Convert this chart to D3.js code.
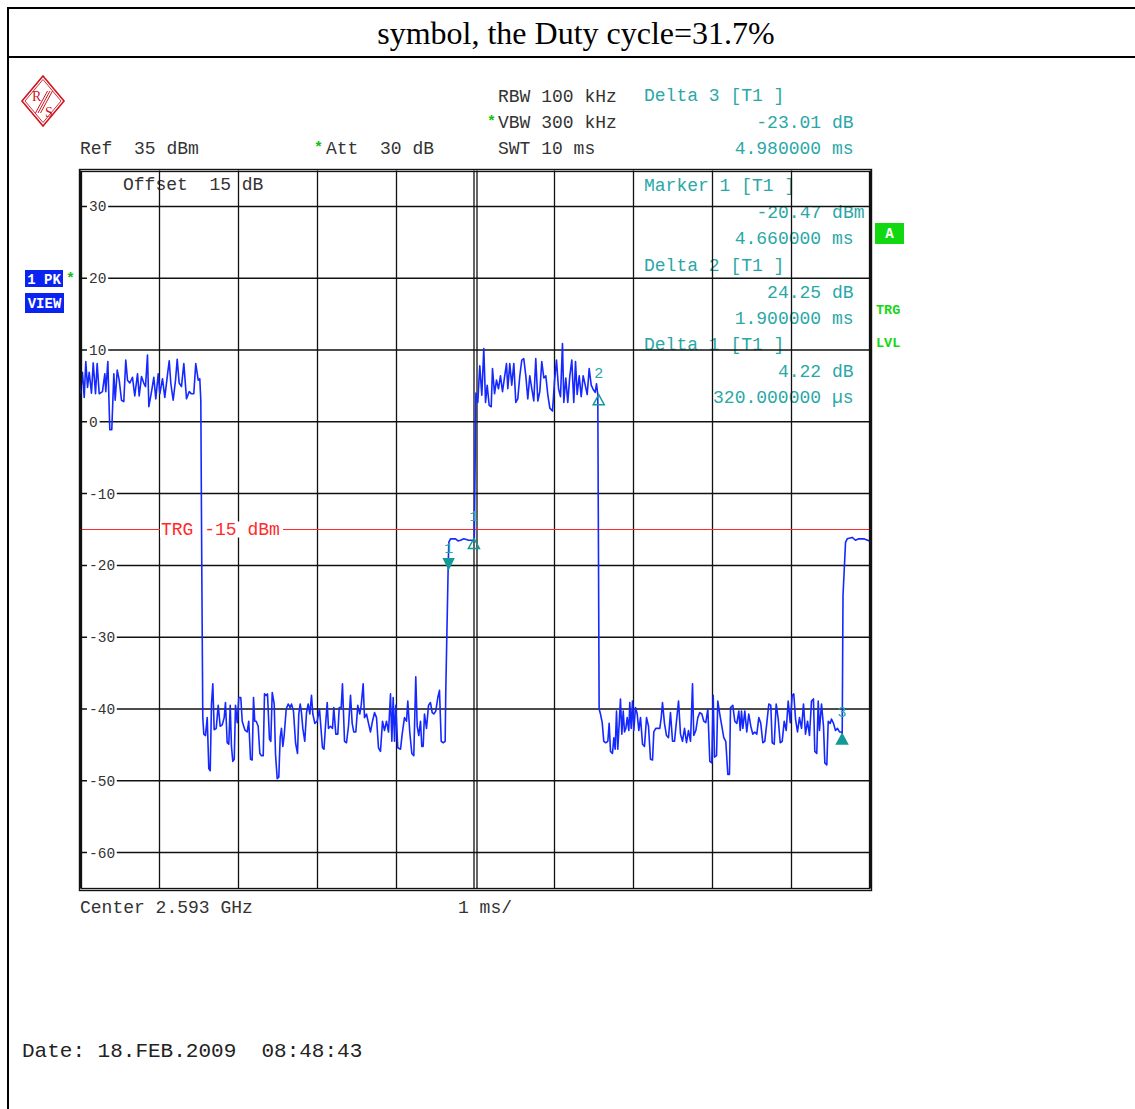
<!DOCTYPE html>
<html>
<head>
<meta charset="utf-8">
<script src="https://cdn.jsdelivr.net/npm/d3@7"></script>
<style>
  body { margin: 0; background: #fff; }
  text { font-family: "Liberation Mono", "DejaVu Sans Mono", monospace; white-space: pre; }
</style>
</head>
<body>
<div id="chart"></div>
<script>
// ---- values ----
var yTicks = [30, 20, 10, 0, -10, -20, -30, -40, -50, -60];
var xDivs = [0, 1, 2, 3, 4, 6, 7, 8, 9, 10];   // ms, 1 ms/div (5 is the double center line)

// trace, [ms, dBm]
var burst1 = [[0.000,3.9],[0.025,6.9],[0.047,3.4],[0.067,8.4],[0.089,4.8],[0.110,6.9],[0.139,4.0],[0.161,8.2],[0.190,3.9],[0.211,8.1],[0.237,3.9],[0.278,4.2],[0.308,6.7],[0.320,4.2],[0.346,8.4],[0.371,-1.1],[0.396,-1.1],[0.422,6.7],[0.439,3.0],[0.465,7.2],[0.490,5.8],[0.519,3.0],[0.548,2.8],[0.573,8.6],[0.595,5.8],[0.624,5.4],[0.658,6.2],[0.687,3.6],[0.722,6.7],[0.743,3.6],[0.772,6.3],[0.801,5.4],[0.823,4.9],[0.848,9.3],[0.865,2.1],[0.899,4.2],[0.928,6.2],[0.953,3.2],[0.984,6.7],[1.004,3.9],[1.038,6.0],[1.067,3.4],[1.097,6.2],[1.123,8.5],[1.143,5.4],[1.173,3.0],[1.203,5.8],[1.224,8.7],[1.249,5.4],[1.278,4.9],[1.308,8.1],[1.342,3.2],[1.376,4.2],[1.405,3.9],[1.434,3.9],[1.459,8.1],[1.490,5.8],[1.510,6.0],[1.523,3.0]];
var floor1 = [[1.535,-20],[1.548,-41.2],[1.561,-43.5],[1.582,-43.7],[1.604,-41.2],[1.624,-48.3],[1.642,-48.6],[1.658,-39.3],[1.675,-36.5],[1.692,-42.9],[1.718,-42.7],[1.743,-39.5],[1.768,-42.4],[1.794,-42.2],[1.819,-41.2],[1.835,-39.1],[1.857,-44.7],[1.877,-44.9],[1.895,-39.5],[1.911,-45.2],[1.928,-47.3],[1.946,-47.0],[1.962,-39.5],[1.984,-41.9],[2.004,-38.4],[2.029,-38.4],[2.047,-41.7],[2.080,-42.9],[2.110,-43.2],[2.130,-41.7],[2.152,-47.0],[2.173,-47.1],[2.190,-38.4],[2.206,-41.7],[2.224,-41.7],[2.249,-42.4],[2.270,-46.2],[2.291,-46.5],[2.313,-46.5],[2.329,-37.9],[2.351,-38.1],[2.367,-37.9],[2.392,-44.2],[2.409,-44.5],[2.427,-37.7],[2.452,-39.3],[2.468,-46.2],[2.490,-49.7],[2.510,-49.5],[2.528,-43.9],[2.544,-42.7],[2.561,-45.2],[2.578,-43.7],[2.604,-40.0],[2.629,-39.3],[2.654,-39.8],[2.671,-39.3],[2.696,-40.3],[2.722,-44.7],[2.747,-46.2],[2.763,-40.7],[2.781,-39.3],[2.797,-40.5],[2.814,-42.7],[2.839,-44.5],[2.861,-40.5],[2.882,-39.3],[2.903,-40.7],[2.924,-38.1],[2.941,-40.7],[2.966,-42.0],[2.996,-41.7],[3.025,-40.0],[3.063,-45.4],[3.082,-45.6],[3.101,-42.4],[3.123,-39.1],[3.139,-42.7],[3.165,-42.4],[3.190,-42.7],[3.206,-39.8],[3.232,-43.5],[3.257,-43.5],[3.275,-39.8],[3.300,-39.8],[3.316,-36.5],[3.342,-44.5],[3.367,-44.7],[3.392,-42.4],[3.418,-38.1],[3.439,-42.0],[3.459,-43.2],[3.485,-43.2],[3.510,-39.5],[3.535,-40.7],[3.553,-39.5],[3.578,-36.5],[3.595,-41.2],[3.620,-40.7],[3.646,-42.0],[3.671,-43.2],[3.696,-41.7],[3.722,-40.5],[3.747,-41.2],[3.772,-45.4],[3.797,-45.9],[3.823,-41.7],[3.848,-43.0],[3.873,-41.7],[3.899,-43.2],[3.924,-37.9],[3.941,-44.5],[3.958,-38.4],[3.975,-44.5],[3.991,-39.5],[4.016,-45.4],[4.051,-45.6],[4.072,-43.5],[4.101,-41.2],[4.127,-41.7],[4.143,-38.9],[4.168,-43.2],[4.194,-46.2],[4.219,-46.5],[4.244,-35.5],[4.262,-42.4],[4.282,-43.7],[4.304,-41.7],[4.320,-45.2],[4.338,-45.2],[4.354,-40.7],[4.380,-42.7],[4.405,-39.5],[4.430,-39.1],[4.452,-40.5],[4.472,-40.7],[4.497,-40.3],[4.523,-38.4],[4.544,-37.4],[4.566,-44.5],[4.591,-44.7],[4.616,-44.5],[4.624,-37.4]];
var preamble1 = [[4.654,-20.3],[4.662,-16.8],[4.684,-16.3],[4.747,-16.3],[4.780,-16.6],[4.810,-16.5],[4.852,-16.3],[4.915,-16.5],[4.966,-16.5],[4.985,-16.4]];
var burst2 = [[5.005,4.0],[5.029,2.7],[5.054,7.8],[5.080,3.7],[5.105,10.2],[5.127,2.7],[5.148,5.1],[5.173,2.3],[5.199,2.1],[5.215,7.4],[5.241,3.9],[5.266,5.8],[5.291,4.6],[5.316,6.4],[5.342,4.2],[5.367,6.2],[5.392,8.1],[5.409,4.6],[5.434,8.1],[5.459,5.1],[5.485,8.1],[5.510,2.7],[5.535,3.2],[5.561,6.4],[5.586,8.6],[5.611,8.8],[5.637,6.4],[5.662,3.2],[5.687,6.4],[5.713,4.6],[5.738,2.9],[5.763,8.8],[5.789,2.9],[5.814,4.2],[5.839,8.4],[5.865,6.1],[5.890,6.4],[5.915,3.8],[5.941,1.9],[5.975,1.5],[6.000,5.6],[6.025,8.6],[6.051,4.6],[6.076,3.5],[6.101,10.9],[6.118,2.7],[6.143,6.1],[6.168,2.7],[6.194,6.4],[6.219,8.6],[6.244,2.7],[6.266,8.4],[6.287,3.8],[6.313,6.4],[6.338,3.5],[6.363,6.4],[6.389,5.1],[6.414,3.8],[6.439,7.4],[6.465,5.1],[6.490,4.5],[6.515,4.1],[6.532,5.3],[6.548,3.8]];
var floor2 = [[6.565,-40.0],[6.582,-40.7],[6.604,-41.9],[6.624,-44.5],[6.649,-44.7],[6.675,-44.5],[6.692,-42.0],[6.709,-45.9],[6.734,-46.2],[6.751,-44.0],[6.768,-45.6],[6.785,-40.3],[6.801,-45.6],[6.819,-42.0],[6.835,-38.6],[6.852,-43.5],[6.870,-40.3],[6.886,-43.2],[6.903,-42.7],[6.920,-41.2],[6.941,-43.0],[6.953,-39.1],[6.971,-42.7],[6.987,-38.9],[7.004,-43.0],[7.025,-39.8],[7.047,-40.7],[7.067,-43.0],[7.089,-41.2],[7.114,-44.9],[7.139,-45.2],[7.165,-41.2],[7.190,-42.4],[7.215,-47.0],[7.241,-47.1],[7.257,-43.2],[7.282,-42.7],[7.308,-42.7],[7.333,-42.7],[7.351,-41.2],[7.367,-39.1],[7.392,-42.0],[7.418,-43.7],[7.443,-44.0],[7.468,-40.5],[7.494,-44.5],[7.519,-44.5],[7.544,-41.7],[7.570,-38.9],[7.595,-43.5],[7.620,-44.5],[7.646,-42.7],[7.671,-44.7],[7.696,-43.0],[7.722,-44.5],[7.747,-36.5],[7.763,-43.7],[7.789,-43.0],[7.814,-41.2],[7.839,-40.5],[7.865,-40.7],[7.890,-41.7],[7.915,-41.9],[7.941,-40.0],[7.966,-47.3],[7.991,-47.5],[8.009,-38.1],[8.025,-46.7],[8.051,-46.5],[8.067,-38.9],[8.092,-40.7],[8.118,-42.4],[8.143,-44.0],[8.168,-44.5],[8.194,-49.1],[8.215,-49.1],[8.228,-39.8],[8.257,-39.5],[8.282,-41.7],[8.308,-42.0],[8.333,-40.3],[8.351,-43.0],[8.367,-40.3],[8.384,-42.7],[8.409,-40.3],[8.434,-43.2],[8.459,-40.7],[8.485,-42.4],[8.510,-43.5],[8.535,-43.2],[8.561,-43.5],[8.586,-41.2],[8.611,-42.0],[8.637,-44.7],[8.662,-44.5],[8.687,-42.0],[8.713,-39.3],[8.738,-39.5],[8.756,-44.7],[8.781,-44.9],[8.806,-39.3],[8.832,-41.4],[8.857,-44.7],[8.882,-44.5],[8.908,-41.7],[8.933,-43.0],[8.958,-38.9],[8.984,-41.9],[9.009,-38.1],[9.029,-37.9],[9.051,-41.4],[9.076,-43.2],[9.101,-41.2],[9.127,-42.7],[9.152,-39.3],[9.177,-43.5],[9.203,-41.7],[9.228,-43.7],[9.253,-38.9],[9.278,-38.6],[9.295,-45.9],[9.320,-46.2],[9.338,-38.9],[9.354,-43.0],[9.380,-39.3],[9.405,-42.4],[9.422,-47.5],[9.447,-47.8],[9.465,-41.7],[9.490,-42.0],[9.506,-41.4],[9.532,-42.0],[9.557,-43.0],[9.582,-42.7],[9.608,-43.2],[9.633,-43.2]];
var preamble2 = [[9.642,-43.4],[9.652,-24.2],[9.684,-16.8],[9.705,-16.3],[9.768,-16.1],[9.810,-16.5],[9.851,-16.3],[9.915,-16.3],[9.987,-16.6],[10.0,-16.6]];

// markers: M1 absolute, deltas relative to M1
var markerNames = ["Marker 1 [T1 ]", "Delta 1 [T1 ]", "Delta 2 [T1 ]", "Delta 3 [T1 ]"];
var markerTimes = [4.66, 0.32, 1.90, 4.98];        // ms
var markerLevels = [-20.47, 4.22, 24.25, -23.01];  // dBm / dB
var trgLevel = -15;

// ---- layout ----
var svgWidth = 1135,
  svgHeight = 1109,
  plotLeft = 80.5,
  plotRight = 870.5,
  plotTop = 170.5,
  plotBottom = 888.5,
  gridColor = "#111",
  textColor = "#333",
  markColor = "#2aa7a7",
  markFill = "#129a96",
  traceColor = "#1428ff",
  green = "#12d812",
  blue = "#0a22f2",
  rsRed = "#d0141e";

var x = d3.scaleLinear().domain([0, 10]).range([plotLeft, plotRight]);
var y = d3.scaleLinear().domain([-65, 35]).range([plotBottom, plotTop]);

var svg = d3.select("#chart")
  .append("svg")
  .attr("width", svgWidth)
  .attr("height", svgHeight);

svg.append("rect").attr("width", svgWidth).attr("height", svgHeight).attr("fill", "#fff");

// title box
svg.append("line").attr("x1", 8).attr("x2", svgWidth).attr("y1", 8).attr("y2", 8)
  .attr("stroke", "#000").attr("stroke-width", 2);
svg.append("line").attr("x1", 8).attr("x2", svgWidth).attr("y1", 57).attr("y2", 57)
  .attr("stroke", "#000").attr("stroke-width", 2);
svg.append("line").attr("x1", 8).attr("x2", 8).attr("y1", 7).attr("y2", svgHeight)
  .attr("stroke", "#000").attr("stroke-width", 2);
svg.append("text")
  .text("symbol, the Duty cycle=31.7%")
  .attr("x", 576).attr("y", 44)
  .style("font-family", "'Liberation Serif', 'Times New Roman', serif")
  .attr("font-size", "32px")
  .attr("fill", "#000")
  .style("text-anchor", "middle");

// R&S logo
var logo = svg.append("g").attr("transform", "translate(43,101)");
logo.append("path").attr("d", "M0,-25L21,0L0,25L-21,0Z").attr("fill", "none").attr("stroke", rsRed).attr("stroke-width", 1.6);
logo.append("path").attr("d", "M0,-21.5L18,0L0,21.5L-18,0Z").attr("fill", "none").attr("stroke", rsRed).attr("stroke-width", 0.9);
[-2.5, 0, 2.5].forEach(function(o) {
  logo.append("line").attr("x1", 7 + o).attr("y1", -10).attr("x2", -5 + o).attr("y2", 12)
    .attr("stroke", rsRed).attr("stroke-width", 1);
});
logo.append("text").text("R").attr("x", -11).attr("y", 0)
  .style("font-family", "'Liberation Serif', serif").attr("font-size", "14px").attr("fill", rsRed);
logo.append("text").text("S").attr("x", 2).attr("y", 16)
  .style("font-family", "'Liberation Serif', serif").attr("font-size", "14px").attr("fill", rsRed);

// header settings
var header = [
  ["RBW 100 kHz", 498, 101.5],
  ["VBW 300 kHz", 498, 128],
  ["Ref  35 dBm", 80, 154],
  ["Att  30 dB", 326, 154],
  ["SWT 10 ms", 498, 154]
];
svg.selectAll("text.header")
  .data(header)
  .enter()
  .append("text")
  .attr("class", "header")
  .text(function(d) { return d[0]; })
  .attr("x", function(d) { return d[1]; })
  .attr("y", function(d) { return d[2]; })
  .attr("font-size", "18px")
  .attr("fill", textColor);

svg.selectAll("text.star")
  .data([[487, 126], [314, 152], [66, 283]])
  .enter()
  .append("text")
  .attr("class", "star")
  .text("*")
  .attr("x", function(d) { return d[0]; })
  .attr("y", function(d) { return d[1]; })
  .attr("font-size", "15px")
  .attr("font-weight", "bold")
  .attr("fill", "#10c010");

// marker readout (drawn before grid: the grid runs through it)
function fmtTime(t) {
  return t < 1 ? (t * 1000).toFixed(6) + " \u00b5s" : t.toFixed(6) + " ms";
}
var slots = [191, 350, 271, 101];   // block baseline for each marker
var readout = [];
markerNames.forEach(function(name, i) {
  var y0 = slots[i];
  readout.push([name, 644, y0, "start"]);
  readout.push([markerLevels[i].toFixed(2) + (i === 0 ? " dBm" : " dB"), i === 0 ? 864.5 : 853.5, y0 + 26.5, "end"]);
  readout.push([fmtTime(markerTimes[i]), 853.5, y0 + 53, "end"]);
});
svg.selectAll("text.readout")
  .data(readout)
  .enter()
  .append("text")
  .attr("class", "readout")
  .text(function(d) { return d[0]; })
  .attr("x", function(d) { return d[1]; })
  .attr("y", function(d) { return d[2]; })
  .attr("font-size", "18px")
  .attr("fill", markColor)
  .style("text-anchor", function(d) { return d[3]; });

svg.append("text").text("Offset  15 dB")
  .attr("x", 123).attr("y", 190).attr("font-size", "18px").attr("fill", textColor);

// grid
svg.selectAll("line.hgrid")
  .data(yTicks)
  .enter()
  .append("line")
  .attr("class", "hgrid")
  .attr("x1", plotLeft).attr("x2", plotRight)
  .attr("y1", function(d) { return y(d); })
  .attr("y2", function(d) { return y(d); })
  .attr("stroke", gridColor)
  .attr("stroke-width", 1.5);

svg.selectAll("line.vgrid")
  .data(xDivs)
  .enter()
  .append("line")
  .attr("class", "vgrid")
  .attr("x1", function(d) { return x(d); })
  .attr("x2", function(d) { return x(d); })
  .attr("y1", plotTop).attr("y2", plotBottom)
  .attr("stroke", gridColor)
  .attr("stroke-width", 1.3);

[-1.5, 1.5].forEach(function(o) {
  svg.append("line")
    .attr("x1", x(5) + o).attr("x2", x(5) + o)
    .attr("y1", plotTop).attr("y2", plotBottom)
    .attr("stroke", gridColor).attr("stroke-width", 1.3);
});

// y tick labels with white backing
var tickG = svg.selectAll("g.tick")
  .data(yTicks)
  .enter()
  .append("g")
  .attr("class", "tick");
tickG.append("rect")
  .attr("x", 87)
  .attr("y", function(d) { return y(d) - 6; })
  .attr("width", function(d) { return String(d).length * 8.6 + 4; })
  .attr("height", 12)
  .attr("fill", "#fff");
tickG.append("text")
  .text(function(d) { return d; })
  .attr("x", 89)
  .attr("y", function(d) { return y(d) + 5; })
  .attr("font-size", "14.5px")
  .attr("fill", textColor);

// trigger level
svg.append("line")
  .attr("x1", plotLeft).attr("x2", plotRight)
  .attr("y1", y(trgLevel)).attr("y2", y(trgLevel))
  .attr("stroke", "#ff2a2a").attr("stroke-width", 1);
svg.append("rect").attr("x", 160).attr("y", y(trgLevel) - 8).attr("width", 123).attr("height", 16).attr("fill", "#fff");
svg.append("text").text("TRG -15 dBm")
  .attr("x", 161).attr("y", y(trgLevel) + 5)
  .attr("font-size", "18px").attr("fill", "#ff2a2a");

// trace
var trace = [].concat(burst1, floor1, preamble1, burst2, floor2, preamble2);
var line = d3.line()
  .x(function(d) { return x(d[0]); })
  .y(function(d) { return y(d[1]); });
svg.append("path")
  .datum(trace)
  .attr("d", line)
  .attr("fill", "none")
  .attr("stroke", traceColor)
  .attr("stroke-width", 1.6)
  .attr("stroke-linejoin", "round");

// marker symbols
var marks = markerNames.map(function(n, i) {
  return {
    t: i === 0 ? markerTimes[0] : markerTimes[0] + markerTimes[i],
    v: i === 0 ? markerLevels[0] : markerLevels[0] + markerLevels[i],
    label: String(i === 0 ? 1 : i),
    down: i === 0,
    filled: i === 0 || i === 3
  };
});
svg.selectAll("path.mark")
  .data(marks)
  .enter()
  .append("path")
  .attr("class", "mark")
  .attr("d", function(d) {
    var px = x(d.t), py = y(d.v);
    if (d.down) return "M" + (px - 5) + "," + (py - 10) + "L" + (px + 5) + "," + (py - 10) + "L" + px + "," + py + "Z";
    return "M" + px + "," + py + "L" + (px + 5.5) + "," + (py + 10) + "L" + (px - 5.5) + "," + (py + 10) + "Z";
  })
  .attr("fill", function(d) { return d.filled ? markFill : "none"; })
  .attr("stroke", markFill)
  .attr("stroke-width", 1.5);
svg.selectAll("text.marklabel")
  .data(marks)
  .enter()
  .append("text")
  .attr("class", "marklabel")
  .text(function(d) { return d.label; })
  .attr("x", function(d) { return x(d.t); })
  .attr("y", function(d) { return y(d.v) - (d.down ? 16 : 17); })
  .attr("font-size", "15px")
  .attr("fill", markColor)
  .style("text-anchor", "middle");

// frame
svg.append("rect").attr("x", 79.5).attr("y", 169.5).attr("width", 792).attr("height", 721)
  .attr("fill", "none").attr("stroke", gridColor).attr("stroke-width", 1.4);
svg.append("rect").attr("x", 81.5).attr("y", 171.5).attr("width", 788).attr("height", 717)
  .attr("fill", "none").attr("stroke", gridColor).attr("stroke-width", 1.3);

// side indicators
svg.append("rect").attr("x", 25).attr("y", 270).attr("width", 38).attr("height", 17).attr("fill", blue);
svg.append("rect").attr("x", 25).attr("y", 293).attr("width", 39).attr("height", 20).attr("fill", blue);
svg.append("text").text("1 PK").attr("x", 44).attr("y", 284)
  .attr("font-size", "14px").attr("font-weight", "bold").attr("fill", "#fff").style("text-anchor", "middle");
svg.append("text").text("VIEW").attr("x", 44.5).attr("y", 308)
  .attr("font-size", "14px").attr("font-weight", "bold").attr("fill", "#fff").style("text-anchor", "middle");

svg.append("rect").attr("x", 875).attr("y", 223).attr("width", 29).attr("height", 21).attr("fill", green);
svg.append("text").text("A").attr("x", 889.5).attr("y", 238)
  .attr("font-size", "14px").attr("font-weight", "bold").attr("fill", "#fff").style("text-anchor", "middle");
svg.selectAll("text.trg")
  .data([["TRG", 314], ["LVL", 347]])
  .enter()
  .append("text")
  .attr("class", "trg")
  .text(function(d) { return d[0]; })
  .attr("x", 876)
  .attr("y", function(d) { return d[1]; })
  .attr("font-size", "13.5px")
  .attr("font-weight", "bold")
  .attr("fill", green);

// footer
svg.append("text").text("Center 2.593 GHz").attr("x", 80).attr("y", 913).attr("font-size", "18px").attr("fill", textColor);
svg.append("text").text("1 ms/").attr("x", 458).attr("y", 913).attr("font-size", "18px").attr("fill", textColor);
svg.append("text").text("Date: 18.FEB.2009  08:48:43").attr("x", 22).attr("y", 1057).attr("font-size", "21px").attr("fill", "#222");
</script>
</body>
</html>
